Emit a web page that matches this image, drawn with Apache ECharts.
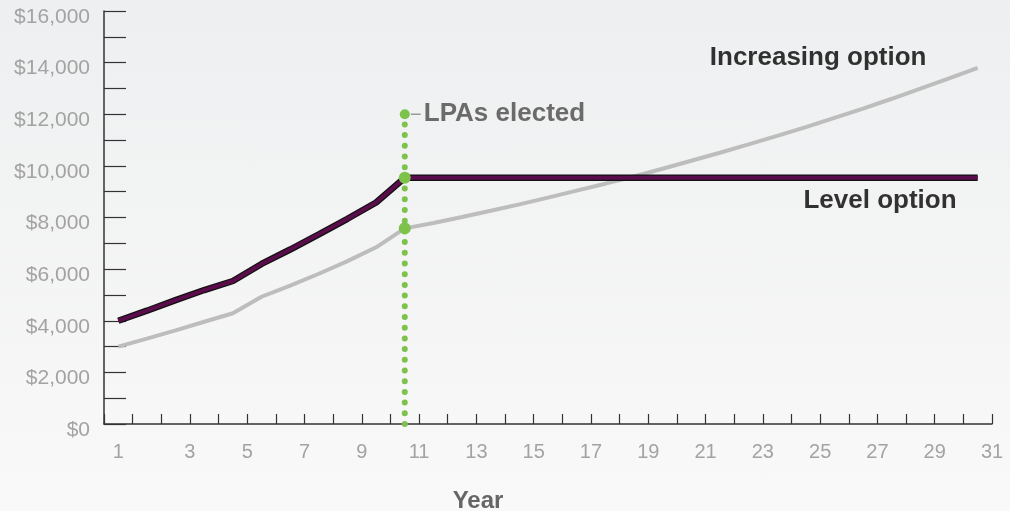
<!DOCTYPE html>
<html>
<head>
<meta charset="utf-8">
<script src="https://cdn.jsdelivr.net/npm/echarts@6/dist/echarts.min.js"></script>
<style>
  html, body { margin: 0; padding: 0; }
  body { width: 1010px; height: 511px; background: linear-gradient(#eeeff0, #f9f9f9); }
  #chart { width: 1010px; height: 511px; }
</style>
</head>
<body>
<div id="chart"></div>
<script>
// values
const years = [1, 2, 3, 4, 5, 6, 7, 8, 9, 10, 11, 12, 13, 14, 15, 16, 17, 18, 19, 20, 21, 22, 23, 24, 25, 26, 27, 28, 29, 30, 31]
const increasing = [3000, 3310, 3630, 3960, 4290, 4930, 5360, 5820, 6310, 6845, 7580, 7790, 8020, 8260, 8510, 8770, 9040, 9310, 9590, 9890, 10200, 10510, 10830, 11160, 11500, 11860, 12220, 12600, 12990, 13390, 13800]
const level = [4000, 4390, 4800, 5190, 5540, 6200, 6760, 7350, 7950, 8580, 9540, 9540, 9540, 9540, 9540, 9540, 9540, 9540, 9540, 9540, 9540, 9540, 9540, 9540, 9540, 9540, 9540, 9540, 9540, 9540, 9540]
const electedYear = 11
const electedTop = 12000
const xTickLabels = ['1', '3', '5', '7', '9', '11', '13', '15', '17', '19', '21', '23', '25', '27', '29', '31']

const font = 'Liberation Sans, Arial, sans-serif'
const green = '#7dc24b'
const purple = '#5b0c4b'

// each year is drawn in the middle of its slot (year 1 -> 0.5)
const pos = (y) => y - 0.5
const incData = years.map((y, i) => [pos(y), increasing[i]])
const lvlData = years.map((y, i) => [pos(y), level[i]])
const idx = years.indexOf(electedYear)

let myChart = echarts.init(document.getElementById('chart'))
let option = {
  animation: false,
  backgroundColor: 'transparent',
  grid: { left: 104, right: 18, top: 11, bottom: 87, outerBoundsMode: 'none', containLabel: false },
  xAxis: [
    {
      type: 'value',
      min: 0,
      max: 31,
      interval: 1,
      position: 'bottom',
      axisLine: { lineStyle: { color: '#333', width: 1.5 } },
      axisTick: { inside: true, length: 10, lineStyle: { color: '#333', width: 1.2 } },
      axisLabel: { show: false },
      splitLine: { show: false },
      name: 'Year',
      nameLocation: 'middle',
      nameGap: 65,
      nameTextStyle: { fontFamily: font, fontWeight: 'bold', fontSize: 24, color: '#666', padding: [0, 140, 0, 0] }
    },
    {
      type: 'value',
      min: 0,
      max: 31,
      interval: 0.5,
      position: 'bottom',
      axisLine: { show: false },
      axisTick: { show: false },
      splitLine: { show: false },
      axisLabel: {
        margin: 18,
        fontFamily: font,
        fontSize: 20,
        color: '#a3a3a3',
        formatter: function (v) {
          if (v === 0.5) return xTickLabels[0]
          if (Number.isInteger(v) && v % 2 === 1 && v >= 3) return xTickLabels[(v - 1) / 2]
          return ''
        }
      }
    }
  ],
  yAxis: {
    type: 'value',
    min: 0,
    max: 16000,
    interval: 1000,
    axisLine: { show: true, lineStyle: { color: '#333', width: 1.5 } },
    axisTick: { show: true, inside: true, length: 22, lineStyle: { color: '#333', width: 1.2 } },
    splitLine: { show: false },
    axisLabel: {
      margin: 14,
      fontFamily: font,
      fontSize: 21,
      color: '#a3a3a3',
      verticalAlign: 'top',
      lineHeight: 12,
      formatter: function (v) {
        if (v % 2000 !== 0) return ''
        return '$' + v.toLocaleString('en-US')
      }
    }
  },
  series: [
    {
      name: 'Increasing option',
      type: 'line',
      data: incData,
      showSymbol: false,
      lineStyle: { color: '#bdbdbd', width: 4 },
      z: 2
    },
    {
      name: 'level-outline',
      type: 'line',
      data: lvlData,
      showSymbol: false,
      lineStyle: { color: '#111', width: 6.5 },
      z: 3
    },
    {
      name: 'Level option',
      type: 'line',
      data: lvlData,
      showSymbol: false,
      lineStyle: { color: purple, width: 4 },
      z: 4
    },
    {
      name: 'elected',
      type: 'line',
      data: [[pos(electedYear), 0], [pos(electedYear), electedTop]],
      showSymbol: false,
      lineStyle: { color: green, width: 6, type: [0, 10.7], cap: 'round' },
      z: 5
    },
    {
      name: 'elected-points',
      type: 'scatter',
      z: 6,
      itemStyle: { color: green, opacity: 1 },
      data: [
        {
          value: [pos(electedYear), electedTop],
          symbolSize: 10,
          label: {
            show: true,
            position: 'right',
            distance: 1,
            formatter: '{l|}{t|LPAs elected}',
            rich: {
              l: { width: 10, height: 1.5, backgroundColor: '#9a9a9a' },
              t: { fontFamily: font, fontSize: 26, fontWeight: 'bold', color: '#6b6b6b', padding: [0, 0, 0, 3] }
            }
          }
        },
        { value: [pos(electedYear), level[idx]], symbolSize: 12 },
        { value: [pos(electedYear), increasing[idx]], symbolSize: 12 }
      ]
    },
    {
      name: 'line-names',
      type: 'scatter',
      symbolSize: 0,
      z: 7,
      label: {
        show: true,
        position: 'inside',
        fontFamily: font,
        fontSize: 26,
        fontWeight: 'bold',
        color: '#000',
        formatter: function (p) { return p.name }
      },
      data: [
        { name: 'Increasing option', value: [24.93, 14180] },
        { name: 'Level option', value: [27.09, 8640] }
      ]
    }
  ]
}
myChart.setOption(option, true)
</script>
</body>
</html>
